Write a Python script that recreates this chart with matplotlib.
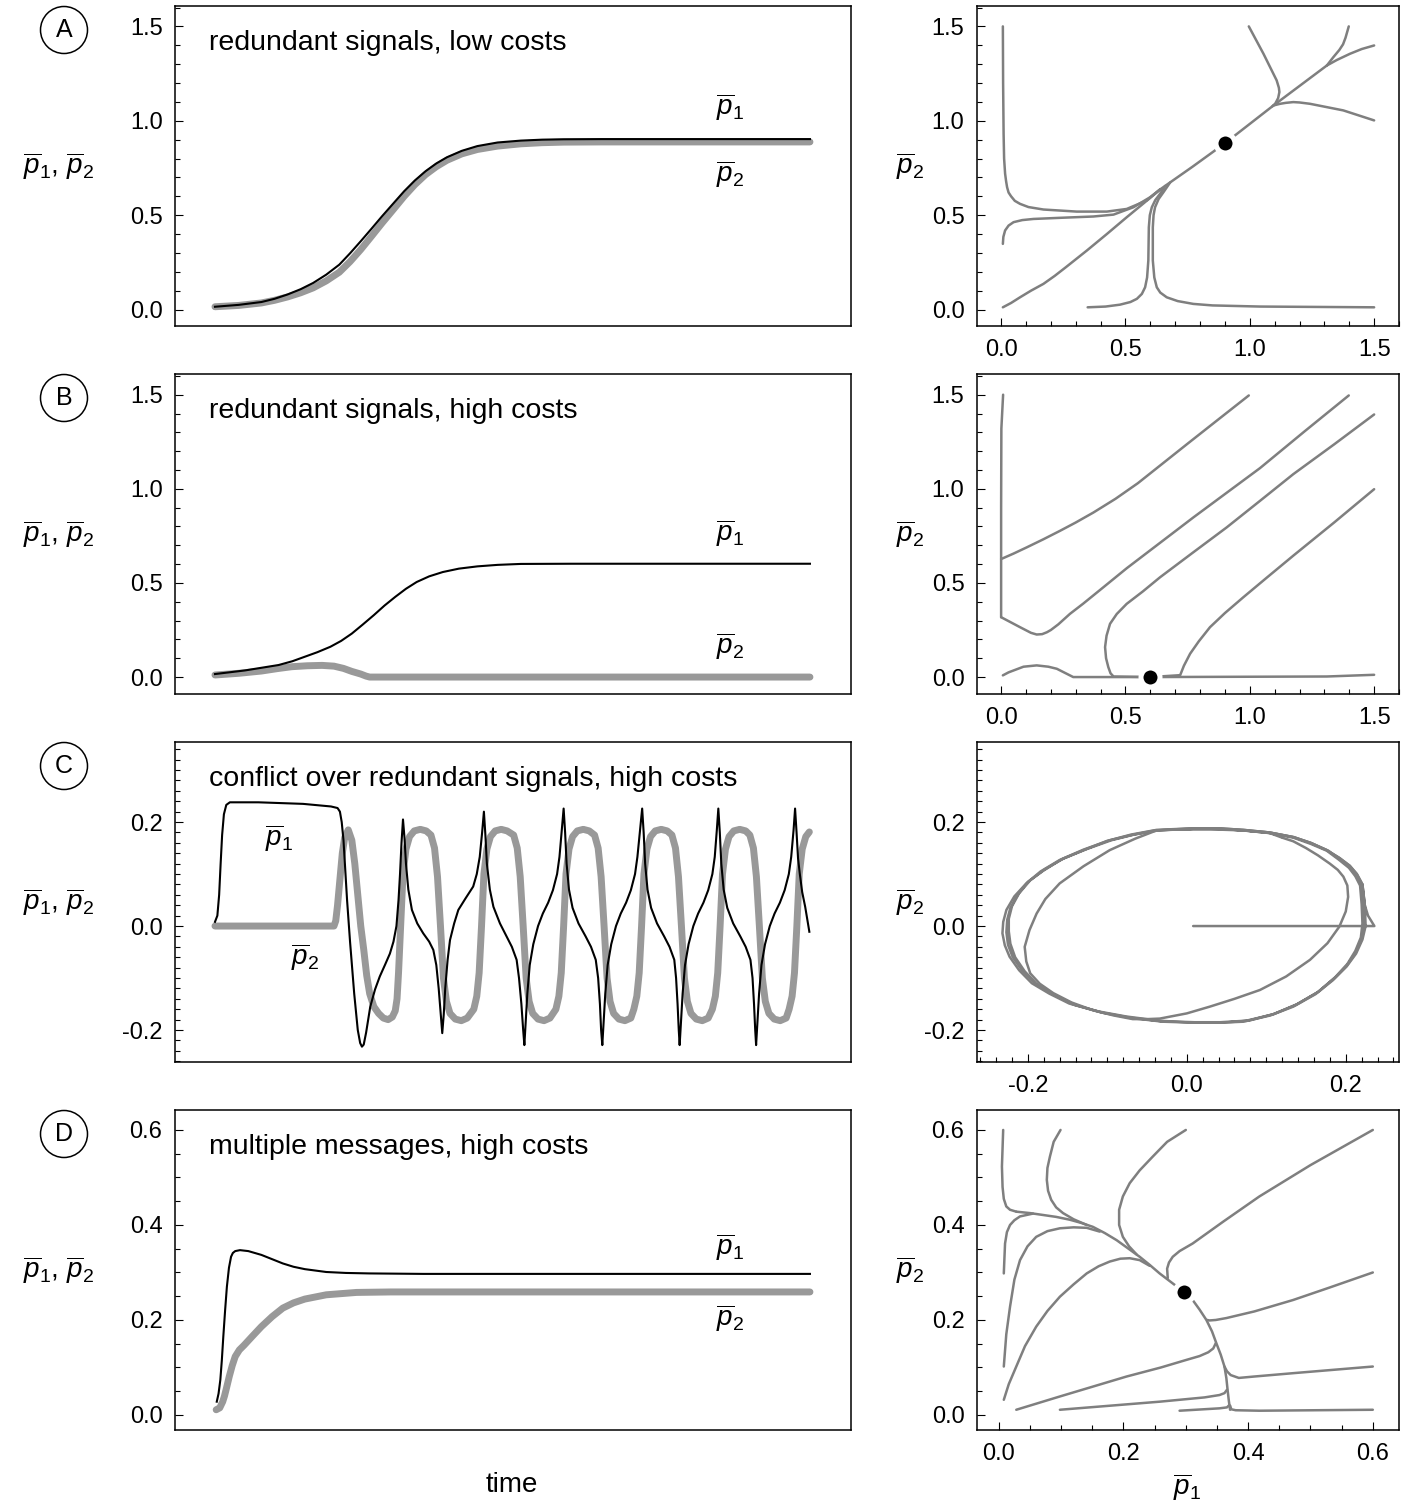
import numpy as np
import matplotlib.pyplot as plt
from matplotlib.patches import Circle
from matplotlib.ticker import MultipleLocator, FormatStrFormatter

plt.rcParams['font.family'] = ['Liberation Sans', 'DejaVu Sans']
plt.rcParams['mathtext.fontset'] = 'custom'
plt.rcParams['mathtext.rm'] = 'Liberation Sans'
plt.rcParams['mathtext.it'] = 'Liberation Sans:italic'
plt.rcParams['axes.unicode_minus'] = False

# ---- time series (left column), time in arbitrary units 0..100 ----
a_t = [0, 4, 7.8, 10, 12.2, 14.4, 16.5, 18.7, 20.9, 22.7, 24.5, 26.3, 28.1, 30, 31.8,
       33.6, 35.4, 37.2, 39.0, 41.5, 44.1, 47.5, 51.4, 55, 58.6, 65, 75, 100]
a_p1 = [0.015, 0.025, 0.04, 0.057, 0.08, 0.108, 0.141, 0.185, 0.238, 0.298, 0.362, 0.428,
        0.495, 0.563, 0.627, 0.684, 0.733, 0.774, 0.807, 0.841, 0.866, 0.885, 0.895, 0.9,
        0.902, 0.903, 0.903, 0.903]
a_p2 = [0.015, 0.022, 0.035, 0.049, 0.067, 0.089, 0.115, 0.152, 0.198, 0.254, 0.318, 0.388,
        0.459, 0.531, 0.600, 0.662, 0.715, 0.757, 0.791, 0.825, 0.848, 0.866, 0.878, 0.884,
        0.887, 0.888, 0.888, 0.888]

b_t1 = [0, 5, 10.7, 13, 15.1, 17.2, 19.4, 21.2, 23.0, 24.8, 26.7, 28.5, 30.3, 32.1, 33.9,
        36, 38.3, 41, 44.1, 47.5, 51.4, 60, 100]
b_p1 = [0.016, 0.035, 0.064, 0.084, 0.108, 0.132, 0.161, 0.192, 0.231, 0.278, 0.329, 0.38,
        0.426, 0.469, 0.505, 0.535, 0.558, 0.576, 0.588, 0.596, 0.601, 0.602, 0.602]
b_t2 = [0, 4, 7.8, 10.5, 12.9, 15.5, 18.0, 20.0, 21.6, 23.0, 24.5, 25.4, 26.0, 100]
b_p2 = [0.011, 0.02, 0.032, 0.045, 0.055, 0.06, 0.062, 0.058, 0.046, 0.03, 0.016, 0.005,
        0.0, 0.0]

c_t1 = [0.0, 0.4, 0.7, 0.95, 1.2, 1.5, 1.9, 2.5, 7.3, 14.8, 19.5, 20.6, 21.0, 21.3, 21.6,
        22.2, 22.7, 23.4, 24.0, 24.4, 24.7, 25.0, 25.4, 26.1, 26.9, 27.7, 28.6, 29.4, 30.0,
        30.5, 30.85, 31.1, 31.35, 31.6, 31.85, 32.1, 32.5, 33.1, 34.0, 35.0, 36.0, 36.7,
        37.2, 37.6, 37.95, 38.2, 38.45, 38.7, 39.1, 39.5, 40.2, 40.9, 42.1, 43.4, 44.0,
        44.5, 44.9, 45.2, 45.45, 45.7, 46.2, 46.8, 47.9, 49.0, 49.9, 50.7, 51.1, 51.5, 51.8,
        52.0, 52.25, 52.5, 52.9, 53.5, 54.3, 55.1, 56.0, 56.8, 57.5, 57.9, 58.3, 58.6,
        58.85, 59.1, 59.5, 60.1, 61.1, 62.3, 63.2, 64.0, 64.4, 64.7, 64.9,
        65.1, 65.35, 65.6, 66.0, 66.6, 67.4, 68.2, 69.1, 69.9, 70.6, 71.0, 71.45, 71.8,
        72.05, 72.3, 72.7, 73.3, 74.3, 75.5, 76.4, 77.2, 77.5, 77.75, 77.95,
        78.1, 78.35, 78.6, 79.0, 79.6, 80.4, 81.2, 82.1, 82.9, 83.6, 84.0, 84.35, 84.6,
        84.85, 85.1, 85.5, 86.1, 87.1, 88.3, 89.2, 90.0, 90.35, 90.6, 90.8,
        90.95, 91.2, 91.45, 91.85, 92.45, 93.25, 94.05, 94.95, 95.75, 96.45, 96.85, 97.25,
        97.5, 97.75, 98.0, 98.3, 98.7, 99.2, 99.9]
c_p1 = [0.008, 0.02, 0.06, 0.12, 0.175, 0.215, 0.233, 0.238, 0.238, 0.235, 0.23, 0.227,
        0.22, 0.2, 0.165, 0.05, -0.03, -0.13, -0.2, -0.225, -0.232, -0.228, -0.205, -0.155,
        -0.122, -0.097, -0.074, -0.053, -0.03, 0.0, 0.05, 0.1, 0.16, 0.205, 0.17, 0.12,
        0.07, 0.031, 0.005, -0.014, -0.03, -0.046, -0.075, -0.12, -0.17, -0.206, -0.17,
        -0.12, -0.065, -0.027, 0.005, 0.031, 0.053, 0.076, 0.1, 0.133, 0.18, 0.22, 0.175,
        0.12, 0.07, 0.037, 0.005, -0.02, -0.04, -0.065, -0.1, -0.15, -0.2,
        -0.229, -0.18, -0.13, -0.075, -0.035, 0.0, 0.024, 0.045, 0.069, 0.1, 0.133, 0.185,
        0.226, 0.18, 0.12, 0.07, 0.035, 0.005, -0.02, -0.04, -0.065, -0.1, -0.15, -0.2,
        -0.229, -0.18, -0.13, -0.075, -0.035, 0.0, 0.024, 0.045, 0.069, 0.1, 0.133, 0.185,
        0.226, 0.18, 0.12, 0.07, 0.035, 0.005, -0.02, -0.04, -0.065, -0.1, -0.15, -0.2,
        -0.229, -0.18, -0.13, -0.075, -0.035, 0.0, 0.024, 0.045, 0.069, 0.1, 0.133, 0.185,
        0.226, 0.18, 0.12, 0.07, 0.035, 0.005, -0.02, -0.04, -0.065, -0.1, -0.15, -0.2,
        -0.229, -0.18, -0.13, -0.075, -0.035, 0.0, 0.024, 0.045, 0.069, 0.1, 0.133, 0.185,
        0.226, 0.18, 0.13, 0.1, 0.065, 0.037, -0.011]
c_t2 = [0, 20.0, 20.3, 20.6, 21.0, 21.4, 21.8, 22.4, 23.0, 23.5, 24.0, 24.5, 25.0, 25.5,
        26.0, 26.7, 27.5, 28.3, 29.1, 29.8, 30.3, 30.6, 30.85,
        31.2, 31.6, 32.1, 32.7, 33.5, 34.5, 35.5,
        36.3, 36.9, 37.4, 37.9, 38.4, 38.9, 39.5, 40.4, 41.4, 42.4,
        43.5, 44.0, 44.4, 44.8, 45.2, 45.7, 46.3, 47.1, 48.1, 49.1,
        50.2, 50.8, 51.3, 51.8, 52.3, 52.8, 53.4, 54.3, 55.3, 56.3,
        57.3, 57.8, 58.2, 58.6, 59.0, 59.5, 60.1, 60.9, 61.9, 62.9,
        63.8, 64.4, 64.9, 65.4, 65.9, 66.4, 67.0, 67.9, 68.9, 69.9,
        70.4, 70.9, 71.3, 71.7, 72.1, 72.6, 73.2, 74.0, 75.0, 76.0,
        76.8, 77.4, 77.9, 78.4, 78.9, 79.4, 80.0, 80.9, 81.9, 82.9,
        83.6, 84.1, 84.5, 84.9, 85.3, 85.8, 86.4, 87.2, 88.2, 89.2,
        89.9, 90.5, 91.0, 91.5, 92.0, 92.5, 93.1, 94.0, 95.0, 96.0,
        96.5, 97.0, 97.4, 97.8, 98.2, 98.7, 99.3, 99.9]
c_p2 = [0, 0.0, 0.01, 0.04, 0.09, 0.14, 0.17, 0.185, 0.165, 0.12, 0.06, 0.0, -0.045,
        -0.095, -0.13, -0.155, -0.168, -0.177, -0.18, -0.175, -0.163, -0.14, -0.09,
        0.0, 0.1, 0.148, 0.172, 0.183, 0.186, 0.183,
        0.175, 0.15, 0.095, 0.0, -0.1, -0.145, -0.168, -0.179, -0.182, -0.177,
        -0.16, -0.135, -0.09, 0.0, 0.1, 0.148, 0.172, 0.183, 0.186, 0.183,
        0.175, 0.15, 0.095, 0.0, -0.1, -0.145, -0.168, -0.179, -0.182, -0.177,
        -0.16, -0.135, -0.09, 0.0, 0.1, 0.148, 0.172, 0.183, 0.186, 0.183,
        0.175, 0.15, 0.095, 0.0, -0.1, -0.145, -0.168, -0.179, -0.182, -0.177,
        -0.16, -0.135, -0.09, 0.0, 0.1, 0.148, 0.172, 0.183, 0.186, 0.183,
        0.175, 0.15, 0.095, 0.0, -0.1, -0.145, -0.168, -0.179, -0.182, -0.177,
        -0.16, -0.135, -0.09, 0.0, 0.1, 0.148, 0.172, 0.183, 0.186, 0.183,
        0.175, 0.15, 0.095, 0.0, -0.1, -0.145, -0.168, -0.179, -0.182, -0.177,
        -0.16, -0.135, -0.09, 0.0, 0.1, 0.148, 0.172, 0.181]

d_t1 = [0.3, 0.6, 0.9, 1.15, 1.4, 1.7, 2.0, 2.35, 2.7, 3.0, 3.4, 4.2, 5.6, 7.8, 9.6, 11.4,
        13.2, 15.1, 18.7, 22, 25.9, 35, 100]
d_p1 = [0.028, 0.045, 0.074, 0.115, 0.165, 0.22, 0.27, 0.31, 0.333, 0.341, 0.345, 0.347,
        0.345, 0.337, 0.328, 0.319, 0.312, 0.307, 0.301, 0.299, 0.298, 0.297, 0.297]
d_t2 = [0.2, 0.8, 1.3, 1.6, 1.9, 2.4, 2.9, 3.4, 4.1, 4.9, 6.3, 7.8, 9.6, 11.4, 13.2, 15.1,
        18.7, 23.8, 29.6, 100]
d_p2 = [0.011, 0.015, 0.028, 0.04, 0.055, 0.081, 0.104, 0.123, 0.137, 0.147, 0.166, 0.186,
        0.207, 0.225, 0.236, 0.244, 0.253, 0.258, 0.259, 0.259]

# ---- phase portraits (right column): (p1 values, p2 values) per trajectory ----
ra_traj = [
    ([0.007, 0.008, 0.01, 0.012, 0.016, 0.02, 0.024, 0.03, 0.04, 0.055, 0.076, 0.11, 0.17,
      0.304, 0.425, 0.505, 0.586, 0.64],
     [1.5, 1.2, 0.93, 0.8, 0.72, 0.68, 0.648, 0.62, 0.6, 0.576, 0.56, 0.543, 0.53, 0.519,
      0.519, 0.533, 0.578, 0.637]),
    ([0.007, 0.009, 0.016, 0.03, 0.05, 0.085, 0.13, 0.237, 0.371, 0.452, 0.532, 0.599, 0.64],
     [0.348, 0.385, 0.419, 0.445, 0.463, 0.474, 0.48, 0.486, 0.493, 0.503, 0.542, 0.595, 0.637]),
    ([0.007, 0.04, 0.076, 0.12, 0.17, 0.215, 0.26, 0.345, 0.425, 0.505, 0.575, 0.64],
     [0.012, 0.035, 0.065, 0.1, 0.136, 0.178, 0.224, 0.313, 0.4, 0.489, 0.565, 0.637]),
    ([0.348, 0.42, 0.478, 0.52, 0.546, 0.566, 0.579, 0.587, 0.592, 0.594, 0.598, 0.606, 0.62,
      0.639, 0.66],
     [0.012, 0.016, 0.026, 0.04, 0.057, 0.083, 0.118, 0.17, 0.26, 0.436, 0.5, 0.542, 0.58,
      0.613, 0.655]),
    ([1.5, 1.041, 0.85, 0.773, 0.71, 0.666, 0.64, 0.626, 0.616, 0.61, 0.61, 0.613, 0.619,
      0.633, 0.653, 0.68],
     [0.012, 0.016, 0.022, 0.03, 0.045, 0.065, 0.09, 0.118, 0.17, 0.26, 0.436, 0.5, 0.542,
      0.585, 0.622, 0.674]),
    ([0.64, 0.77, 0.90], [0.637, 0.757, 0.881]),
    ([0.90, 1.095, 1.31], [0.881, 1.081, 1.293]),
    ([0.996, 1.055, 1.108, 1.117, 1.119, 1.114, 1.102, 1.09],
     [1.5, 1.355, 1.214, 1.175, 1.152, 1.12, 1.09, 1.076]),
    ([1.5, 1.376, 1.242, 1.2, 1.175, 1.145, 1.122, 1.095],
     [1.002, 1.055, 1.09, 1.097, 1.099, 1.095, 1.09, 1.081]),
    ([1.398, 1.385, 1.375, 1.36, 1.336, 1.31], [1.5, 1.44, 1.405, 1.375, 1.337, 1.293]),
    ([1.5, 1.45, 1.403, 1.35, 1.31], [1.399, 1.38, 1.355, 1.322, 1.293]),
]
ra_fixed = (0.90, 0.881)

rb_traj = [
    ([0.008, 0.001, 0.0, 0.0], [1.5, 1.32, 0.9, 0.318]),
    ([0.996, 0.87, 0.75, 0.65, 0.55, 0.46, 0.371, 0.3, 0.237, 0.17, 0.103, 0.05, 0.0],
     [1.496, 1.365, 1.24, 1.135, 1.03, 0.947, 0.874, 0.821, 0.777, 0.732, 0.689, 0.656, 0.627]),
    ([1.398, 1.22, 1.041, 0.773, 0.505, 0.4, 0.33, 0.277, 0.23, 0.2, 0.184, 0.165, 0.143,
      0.12, 0.076, 0.0],
     [1.496, 1.305, 1.11, 0.848, 0.578, 0.465, 0.39, 0.336, 0.28, 0.25, 0.238, 0.228, 0.226,
      0.235, 0.265, 0.318]),
    ([1.5, 1.34, 1.175, 1.04, 0.907, 0.77, 0.639, 0.57, 0.505, 0.465, 0.438, 0.424, 0.418,
      0.422, 0.431, 0.44, 0.452, 0.6],
     [1.395, 1.237, 1.078, 0.935, 0.795, 0.66, 0.53, 0.455, 0.389, 0.335, 0.283, 0.22, 0.159,
      0.1, 0.053, 0.02, 0.003, 0.0]),
    ([1.5, 1.34, 1.175, 1.07, 0.974, 0.9, 0.84, 0.795, 0.76, 0.735, 0.72, 0.6],
     [0.998, 0.822, 0.645, 0.53, 0.424, 0.34, 0.265, 0.19, 0.124, 0.06, 0.01, 0.0]),
    ([1.5, 1.31, 0.6], [0.012, 0.003, 0.0]),
    ([0.007, 0.03, 0.05, 0.09, 0.143, 0.19, 0.224, 0.26, 0.29, 0.6],
     [0.009, 0.025, 0.035, 0.055, 0.062, 0.055, 0.044, 0.02, 0.0, 0.0]),
]
rb_fixed = (0.6, 0.0)

rc_traj = [
    # start on the p1 axis, then first (widest) loop
    ([0.008, 0.236, 0.228, 0.224, 0.221, 0.214, 0.205, 0.192, 0.176, 0.156, 0.134, 0.104,
      0.071, 0.04, 0.008, -0.038, -0.07, -0.097, -0.13, -0.16, -0.184, -0.202, -0.217,
      -0.227, -0.231, -0.232, -0.229, -0.223, -0.211, -0.195, -0.173, -0.148, -0.112,
      -0.076, -0.035, 0.008, 0.04, 0.071, 0.105, 0.134, 0.162, 0.184, 0.201, 0.213, 0.221,
      0.225, 0.224, 0.221],
     [0.0, 0.0, 0.02, 0.04, 0.08, 0.1, 0.116, 0.131, 0.146, 0.16, 0.171, 0.18, 0.185, 0.188,
      0.188, 0.185, 0.176, 0.165, 0.147, 0.127, 0.105, 0.082, 0.057, 0.031, 0.008, -0.014,
      -0.037, -0.059, -0.085, -0.11, -0.13, -0.149, -0.164, -0.174, -0.182, -0.186, -0.186,
      -0.184, -0.172, -0.155, -0.131, -0.104, -0.078, -0.053, -0.026, 0.0, 0.04, 0.08]),
    # inner loop
    ([0.221, 0.214, 0.205, 0.192, 0.176, 0.156, 0.134, 0.104, 0.071, 0.04, 0.008, -0.038,
      -0.065, -0.097, -0.13, -0.16, -0.178, -0.189, -0.198, -0.204, -0.202, -0.197, -0.185,
      -0.168, -0.145, -0.118, -0.092, -0.068, -0.05, -0.034, 0.0, 0.029, 0.06, 0.092,
      0.125, 0.155, 0.177, 0.192, 0.2, 0.203, 0.202, 0.197, 0.19, 0.18, 0.165, 0.15, 0.134,
      0.12],
     [0.08, 0.1, 0.116, 0.131, 0.146, 0.16, 0.171, 0.18, 0.185, 0.188, 0.188, 0.184, 0.168,
      0.146, 0.115, 0.082, 0.052, 0.024, -0.008, -0.04, -0.068, -0.091, -0.111, -0.129,
      -0.147, -0.162, -0.172, -0.179, -0.179, -0.178, -0.168, -0.155, -0.14, -0.123, -0.097,
      -0.065, -0.033, -0.001, 0.028, 0.056, 0.078, 0.095, 0.108, 0.12, 0.136, 0.15, 0.163,
      0.17]),
    # two more loops close to the limit cycle
    ([0.12, 0.104, 0.071, 0.04, 0.008, -0.04, -0.07, -0.1, -0.13, -0.158, -0.181, -0.2,
      -0.213, -0.222, -0.226, -0.227, -0.225, -0.219, -0.207, -0.19, -0.168, -0.143, -0.108,
      -0.072, -0.032, 0.01, 0.042, 0.075, 0.108, 0.137, 0.164, 0.186, 0.202, 0.213, 0.22,
      0.223, 0.222, 0.22, 0.213, 0.206, 0.193, 0.178, 0.157, 0.135, 0.104, 0.072, 0.04,
      0.008, -0.036, -0.066, -0.095, -0.126, -0.155, -0.179, -0.197, -0.211, -0.22, -0.224,
      -0.224, -0.222, -0.216, -0.204, -0.188, -0.166, -0.14, -0.105, -0.07, -0.03, 0.012,
      0.044, 0.078, 0.11, 0.139, 0.166, 0.187, 0.202, 0.212, 0.219, 0.221, 0.22, 0.218,
      0.212, 0.204, 0.191, 0.176, 0.156, 0.134, 0.103, 0.07, 0.03, -0.011],
     [0.17, 0.179, 0.184, 0.187, 0.187, 0.184, 0.175, 0.164, 0.146, 0.128, 0.106, 0.085,
      0.06, 0.035, 0.012, -0.012, -0.036, -0.06, -0.086, -0.112, -0.132, -0.151, -0.166,
      -0.176, -0.183, -0.185, -0.185, -0.182, -0.17, -0.152, -0.128, -0.1, -0.075, -0.05,
      -0.024, 0.0, 0.04, 0.078, 0.097, 0.112, 0.128, 0.145, 0.159, 0.171, 0.18, 0.184,
      0.187, 0.187, 0.184, 0.176, 0.165, 0.148, 0.13, 0.109, 0.088, 0.063, 0.038, 0.014,
      -0.01, -0.034, -0.06, -0.087, -0.113, -0.133, -0.152, -0.167, -0.177, -0.184, -0.186,
      -0.186, -0.182, -0.169, -0.15, -0.126, -0.098, -0.073, -0.048, -0.022, 0.005, 0.042,
      0.078, 0.096, 0.112, 0.128, 0.145, 0.158, 0.17, 0.179, 0.184, 0.186, 0.186]),
]

rd_traj = [
    ([0.028, 0.05, 0.071, 0.092, 0.114, 0.133, 0.151, 0.17, 0.189, 0.207, 0.226, 0.242,
      0.258, 0.27, 0.282, 0.297],
     [0.428, 0.425, 0.421, 0.417, 0.411, 0.404, 0.396, 0.383, 0.368, 0.351, 0.333, 0.316,
      0.298, 0.286, 0.274, 0.258]),
    ([0.371, 0.369, 0.367, 0.365, 0.362, 0.356, 0.349, 0.342, 0.333, 0.322, 0.311, 0.297],
     [0.011, 0.03, 0.053, 0.078, 0.102, 0.127, 0.151, 0.176, 0.2, 0.222, 0.242, 0.258]),
    ([0.007, 0.005, 0.006, 0.008, 0.012, 0.018, 0.028],
     [0.6, 0.523, 0.48, 0.455, 0.439, 0.432, 0.428]),
    ([0.008, 0.009, 0.01, 0.013, 0.018, 0.025, 0.034, 0.055],
     [0.298, 0.33, 0.361, 0.385, 0.4, 0.41, 0.418, 0.424]),
    ([0.099, 0.088, 0.082, 0.078, 0.077, 0.079, 0.084, 0.092, 0.103, 0.12, 0.141],
     [0.6, 0.575, 0.544, 0.52, 0.495, 0.472, 0.453, 0.437, 0.425, 0.412, 0.4]),
    ([0.008, 0.012, 0.018, 0.025, 0.034, 0.046, 0.06, 0.078, 0.098, 0.12, 0.141, 0.162],
     [0.102, 0.17, 0.228, 0.285, 0.326, 0.355, 0.375, 0.387, 0.393, 0.395, 0.394, 0.386]),
    ([0.3, 0.27, 0.247, 0.226, 0.21, 0.199, 0.193, 0.193, 0.199, 0.209, 0.221],
     [0.6, 0.575, 0.544, 0.515, 0.488, 0.46, 0.432, 0.4, 0.375, 0.355, 0.338]),
    ([0.6, 0.5, 0.418, 0.36, 0.311, 0.29, 0.279, 0.273, 0.27, 0.271],
     [0.6, 0.526, 0.46, 0.407, 0.361, 0.345, 0.333, 0.321, 0.308, 0.288]),
    ([0.008, 0.016, 0.028, 0.042, 0.06, 0.078, 0.098, 0.12, 0.141, 0.16, 0.178, 0.195, 0.21,
      0.226, 0.242],
     [0.032, 0.065, 0.102, 0.145, 0.186, 0.219, 0.249, 0.275, 0.298, 0.313, 0.323, 0.329,
      0.33, 0.326, 0.314]),
    ([0.6, 0.53, 0.472, 0.41, 0.365, 0.348, 0.338, 0.334], [0.3, 0.268, 0.242, 0.218, 0.204, 0.2, 0.199, 0.2]),
    ([0.028, 0.098, 0.205, 0.26, 0.301, 0.322, 0.336, 0.344, 0.348],
     [0.011, 0.039, 0.081, 0.1, 0.116, 0.124, 0.132, 0.14, 0.151]),
    ([0.6, 0.472, 0.41, 0.385, 0.372, 0.366, 0.362], [0.102, 0.088, 0.081, 0.078, 0.084, 0.092, 0.102]),
    ([0.098, 0.258, 0.33, 0.354, 0.362, 0.366], [0.011, 0.028, 0.037, 0.042, 0.046, 0.053]),
    ([0.29, 0.354, 0.366, 0.369], [0.009, 0.014, 0.016, 0.02]),
    ([0.6, 0.418, 0.38, 0.373, 0.371], [0.011, 0.009, 0.01, 0.012, 0.02]),
]
rd_fixed = (0.297, 0.258)

titles = ['redundant signals, low costs', 'redundant signals, high costs',
          'conflict over redundant signals, high costs', 'multiple messages, high costs']
letters = ['A', 'B', 'C', 'D']

P1 = r'$\overline{p}_1$'
P2 = r'$\overline{p}_2$'

# ---- figure ----
W, H = 1410, 1505
fig = plt.figure(figsize=(W / 100, H / 100), dpi=100)
rows_bottom = [326, 694, 1062, 1430]
ax_h = 320 / H

def style(ax, lim, major, minor, axis='y'):
    a = ax.yaxis if axis == 'y' else ax.xaxis
    if axis == 'y':
        ax.set_ylim(*lim)
    else:
        ax.set_xlim(*lim)
    a.set_major_locator(MultipleLocator(major))
    a.set_minor_locator(MultipleLocator(minor))
    a.set_major_formatter(FormatStrFormatter('%.1f'))

def base(ax):
    for s in ax.spines.values():
        s.set_linewidth(1.1)
    ax.tick_params(which='both', direction='in', top=False, right=False,
                   width=0.8, labelsize=17, pad=9)
    ax.tick_params(which='major', length=6)
    ax.tick_params(which='minor', length=3.6)

ylims = [(-0.087, 1.608), (-0.09, 1.61), (-0.2615, 0.354), (-0.0316, 0.642)]
ymaj = [0.5, 0.5, 0.2, 0.2]
ymin = [0.1, 0.1, 0.02, 0.05]
xlims_r = [(-0.097, 1.60), (-0.097, 1.60), (-0.264, 0.267), (-0.035, 0.642)]

left_series = [
    (a_t, a_p1, a_t, a_p2), (b_t1, b_p1, b_t2, b_p2),
    (c_t1, c_p1, c_t2, c_p2), (d_t1, d_p1, d_t2, d_p2),
]
lab_pos = [((86.6, 1.07), (86.6, 0.715)), ((86.6, 0.763), (86.6, 0.164)),
           ((10.8, 0.169), (15.1, -0.06)), ((86.6, 0.354), (86.6, 0.204))]
right_traj = [ra_traj, rb_traj, rc_traj, rd_traj]
right_fixed = [ra_fixed, rb_fixed, None, rd_fixed]

for i in range(4):
    bottom = 1 - rows_bottom[i] / H
    axl = fig.add_axes([175 / W, bottom, 676 / W, ax_h])
    axr = fig.add_axes([977 / W, bottom, 422 / W, ax_h])

    # left: time course
    t1, p1, t2, p2 = left_series[i]
    axl.plot(t2, p2, color='#999999', lw=5, solid_capstyle='round', solid_joinstyle='round')
    axl.plot(t1, p1, color='black', lw=1.5, solid_joinstyle='round')
    axl.set_xlim(-6.72, 106.9)
    base(axl)
    style(axl, ylims[i], ymaj[i], ymin[i])
    axl.tick_params(axis='x', which='both', bottom=False, labelbottom=False)
    axl.text(0.0503, 0.884, titles[i], transform=axl.transAxes, fontsize=20.5,
             ha='left', va='center')
    (x1, y1), (x2, y2) = lab_pos[i]
    axl.text(x1, y1, P1, fontsize=20, ha='center', va='center')
    axl.text(x2, y2, P2, fontsize=20, ha='center', va='center')
    axl.text(-0.173, 0.5, P1 + ', ' + P2, transform=axl.transAxes, fontsize=20,
             ha='center', va='center')

    # right: phase portrait
    for xs, ys in right_traj[i]:
        axr.plot(xs, ys, color='#7f7f7f', lw=1.8, solid_capstyle='round',
                 solid_joinstyle='round')
    if right_fixed[i] is not None:
        fx, fy = right_fixed[i]
        axr.plot([fx], [fy], 'o', color='black', ms=13.7, mec='white', mew=3.6, zorder=5)
    base(axr)
    style(axr, ylims[i], ymaj[i], ymin[i])
    style(axr, xlims_r[i], ymaj[i], ymin[i], axis='x')
    axr.text(-0.159, 0.5, P2, transform=axr.transAxes, fontsize=20, ha='center', va='center')

    # circled panel letter
    cy = (H - (30 + 368 * i)) / 100
    fig.patches.append(Circle((0.64, cy), 0.235, transform=fig.dpi_scale_trans,
                              facecolor='none', edgecolor='black', lw=1.1))
    fig.text(0.64, cy, letters[i], transform=fig.dpi_scale_trans, fontsize=18,
             ha='center', va='center')

    if i == 3:
        axl.text(0.4985, -0.172, 'time', transform=axl.transAxes, fontsize=20,
                 ha='center', va='center')
        axr.text(0.498, -0.178, P1, transform=axr.transAxes, fontsize=20,
                 ha='center', va='center')

fig.savefig('out.png', dpi=100)
